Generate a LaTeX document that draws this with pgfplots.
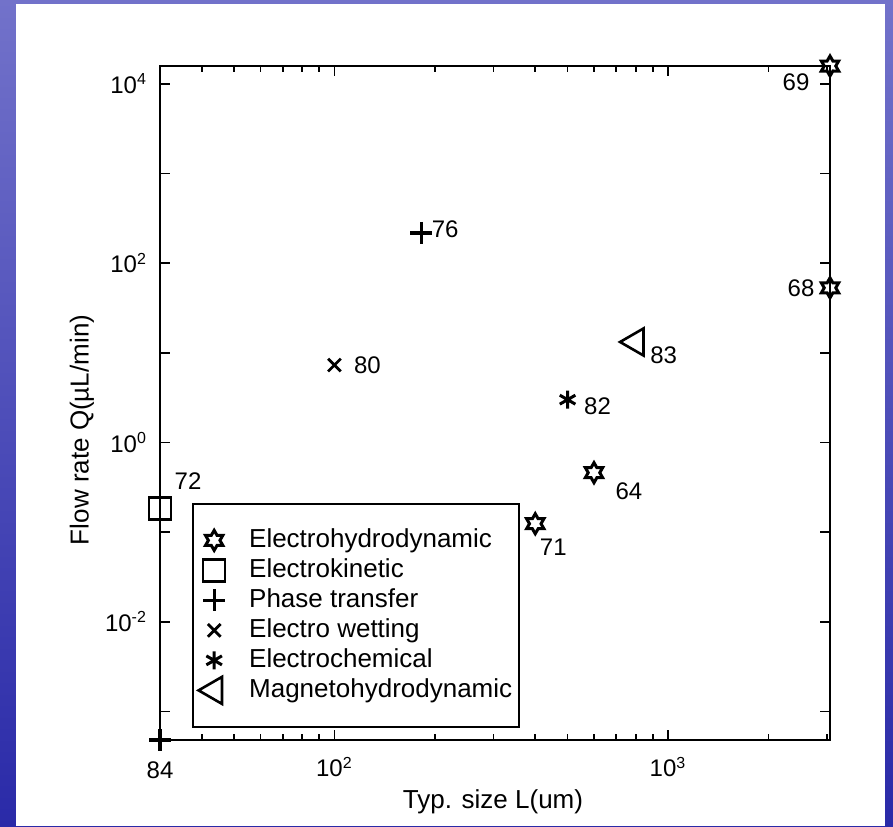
\documentclass[border=0pt]{standalone}
\usepackage{fontspec}
\setmainfont{Liberation Sans}
\usepackage{pgfplots}
\pgfplotsset{compat=1.18}

\definecolor{bgtop}{RGB}{114,114,202}
\definecolor{bgbot}{RGB}{42,42,168}

% six-pointed star outline (like MATLAB 'hexagram')
\pgfdeclareplotmark{hexagram}{%
  \pgfpathmoveto{\pgfpointpolar{90}{\pgfplotmarksize}}%
  \pgfpathlineto{\pgfpointpolar{120}{0.577\pgfplotmarksize}}%
  \pgfpathlineto{\pgfpointpolar{150}{\pgfplotmarksize}}%
  \pgfpathlineto{\pgfpointpolar{180}{0.577\pgfplotmarksize}}%
  \pgfpathlineto{\pgfpointpolar{210}{\pgfplotmarksize}}%
  \pgfpathlineto{\pgfpointpolar{240}{0.577\pgfplotmarksize}}%
  \pgfpathlineto{\pgfpointpolar{270}{\pgfplotmarksize}}%
  \pgfpathlineto{\pgfpointpolar{300}{0.577\pgfplotmarksize}}%
  \pgfpathlineto{\pgfpointpolar{330}{\pgfplotmarksize}}%
  \pgfpathlineto{\pgfpointpolar{0}{0.577\pgfplotmarksize}}%
  \pgfpathlineto{\pgfpointpolar{30}{\pgfplotmarksize}}%
  \pgfpathlineto{\pgfpointpolar{60}{0.577\pgfplotmarksize}}%
  \pgfpathclose
  \pgfusepathqstroke
}

\begin{document}
\begin{tikzpicture}
\path[use as bounding box] (0,0) rectangle (446.5pt,413pt);
\shade[top color=bgtop,bottom color=bgbot] (0,0) rectangle (446.5pt,413pt);
\fill[white] (8pt,0) rectangle (442.5pt,411pt);
\begin{axis}[
    at={(80pt,43pt)}, anchor=south west,
    scale only axis, width=335pt, height=337pt,
    xmode=log, ymode=log,
    xmin=30, xmax=3060, ymin=4.8e-4, ymax=1.58e4,
    clip=false,
    axis line style={line width=1.3pt},
    tick style={line width=0.9pt, black},
    tick align=inside,
    major tick length=5pt, minor tick length=3pt,
    xtick={100,1000},
    minor xtick={40,50,60,70,80,90,200,300,400,500,600,700,800,900,2000,3000},
    xticklabels={10\textsuperscript{2},10\textsuperscript{3}},
    ytick={1e-3,1e-2,1e-1,1,10,100,1000,10000},
    yticklabels={{},10\textsuperscript{-2},{},10\textsuperscript{0},{},10\textsuperscript{2},{},10\textsuperscript{4}},
    yminorticks=false,
    xticklabel style={font=\fontsize{12}{14}\selectfont, yshift=-5pt},
    yticklabel style={font=\fontsize{12}{14}\selectfont, xshift=-3pt},
    xlabel={Typ. size L(um)},
    ylabel={Flow rate Q(µL/min)},
    every axis x label/.style={at={(rel axis cs:0.497,-0.092)}, anchor=center, font=\fontsize{13}{15}\selectfont},
    every axis y label/.style={at={(rel axis cs:-0.1164,0.46)}, rotate=90, anchor=center, font=\fontsize{13}{15}\selectfont},
    legend cell align=left,
    legend image code/.code={%
        \path[draw=none, fill=none] (-8pt,-2pt) rectangle (8pt,2pt);
        \draw[#1] plot coordinates {(0pt,0pt)};},
    legend style={at={(rel axis cs:0.048,0.018)}, anchor=south west,
        draw=black, line width=1pt, inner xsep=2.5pt, inner ysep=10.75pt,
        column sep=8.5pt,
        font=\fontsize{13}{15}\selectfont,
        nodes={inner xsep=1pt, inner ysep=1pt, text height=10pt, text depth=3pt}},
]
% Electrohydrodynamic: 69, 68, 64, 71
\addplot[only marks, mark=hexagram, mark size=5pt, line width=1.5pt] coordinates {
    (3060,1.58e4) (3060,53) (600,0.46) (400,0.124)};
\addlegendentry{Electrohydrodynamic}
% Electrokinetic: 72
\addplot[only marks, mark=square, mark size=5.5pt, line width=1.3pt] coordinates {
    (30,0.182)};
\addlegendentry{Electrokinetic}
% Phase transfer: 76, 84
\addplot[only marks, mark=+, mark size=5.5pt, line width=1.6pt] coordinates {
    (182,217) (30,4.8e-4)};
\addlegendentry{Phase transfer}
% Electro wetting: 80
\addplot[only marks, mark=x, mark size=4.5pt, line width=1.4pt] coordinates {
    (100,7.3)};
\addlegendentry{Electro wetting}
% Electrochemical: 82
\addplot[only marks, mark=asterisk, mark size=4.5pt, line width=1.5pt] coordinates {
    (500,3.0)};
\addlegendentry{Electrochemical}
% Magnetohydrodynamic: 83
\addplot[only marks, mark=triangle, mark size=7.8pt, line width=1.3pt, mark options={rotate=90}] coordinates {
    (800,13.2)};
\addlegendentry{Magnetohydrodynamic}

\begin{scope}[every node/.style={font=\fontsize{12}{14}\selectfont}]
\node[xshift=-17pt, yshift=-8pt] at (axis cs:3060,1.58e4) {69};
\node[xshift=-14.5pt] at (axis cs:3060,53) {68};
\node[xshift=12pt, yshift=2pt] at (axis cs:182,217) {76};
\node[xshift=16.5pt] at (axis cs:100,7.3) {80};
\node[xshift=14pt, yshift=-6.5pt] at (axis cs:800,13.2) {83};
\node[xshift=15pt, yshift=-3.5pt] at (axis cs:500,3.0) {82};
\node[xshift=17.5pt, yshift=-9.5pt] at (axis cs:600,0.46) {64};
\node[xshift=9pt, yshift=-12pt] at (axis cs:400,0.124) {71};
\node[xshift=14pt, yshift=14pt] at (axis cs:30,0.182) {72};
\node[yshift=-15pt] at (axis cs:30,4.8e-4) {84};
\end{scope}
\end{axis}
\end{tikzpicture}
\end{document}
